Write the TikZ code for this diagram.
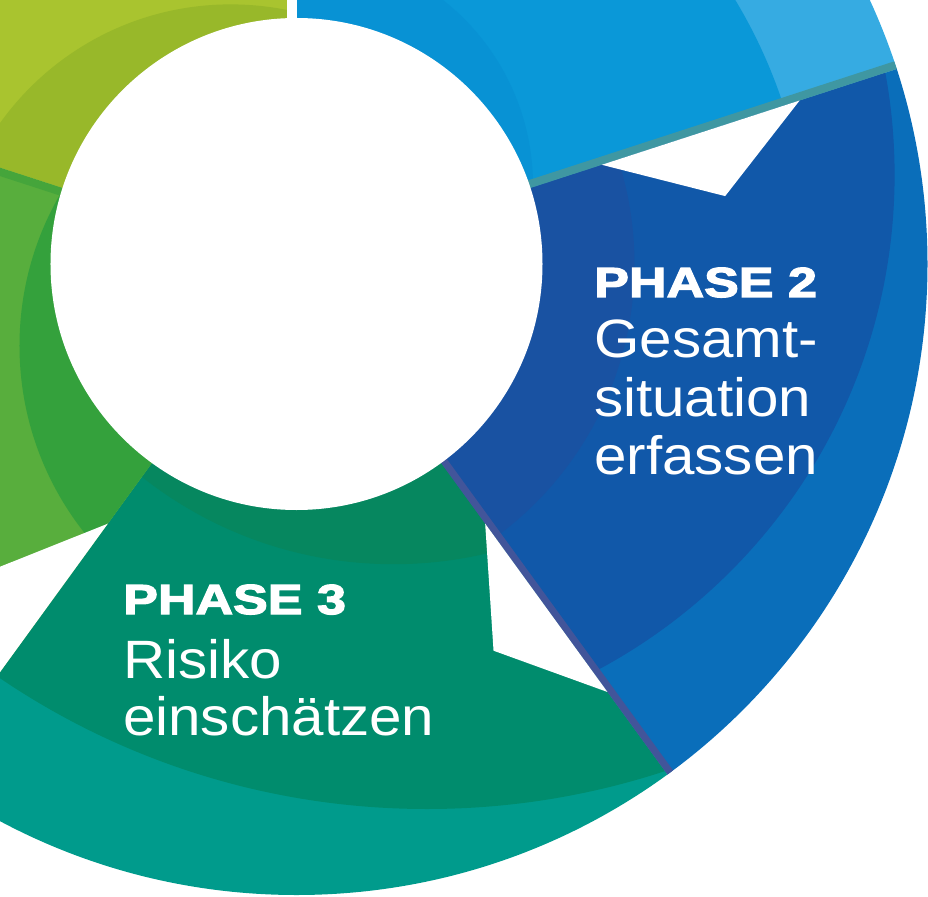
\documentclass[tikz,border=0pt]{standalone}
\usepackage{fontspec}
\setmainfont{Liberation Sans}[FakeStretch=1.08]
\newfontfamily\phasefont{Liberation Sans}[FakeStretch=1.24,FakeBold=3]
\usetikzlibrary{calc}

\definecolor{pOneMain}{HTML}{0A98D8}
\definecolor{pOneOuter}{HTML}{36ABE2}
\definecolor{pOneInner}{HTML}{0892D4}
\definecolor{pOneEdge}{HTML}{3F97A2}
\definecolor{pTwoMain}{HTML}{1158A9}
\definecolor{pTwoOuter}{HTML}{0A6EBA}
\definecolor{pTwoInner}{HTML}{1952A2}
\definecolor{pTwoEdge}{HTML}{42559A}
\definecolor{pThreeMain}{HTML}{008C6D}
\definecolor{pThreeOuter}{HTML}{009B8C}
\definecolor{pThreeInner}{HTML}{06875F}
\definecolor{pFourMain}{HTML}{58AE3D}
\definecolor{pFourInner}{HTML}{34A13C}
\definecolor{pFourEdge}{HTML}{45A53B}
\definecolor{pFiveMain}{HTML}{A9C42F}
\definecolor{pFiveInner}{HTML}{98B82A}

\begin{document}
\begin{tikzpicture}[x=1pt,y=1pt,
  titletext/.style={anchor=base west,inner sep=0pt,text=white,
    font=\phasefont\bfseries\fontsize{42}{42}\selectfont},
  bodytext/.style={anchor=base west,inner sep=0pt,text=white,
    font=\fontsize{54}{54}\selectfont}]
  \useasboundingbox (-296.5,-632) rectangle (631.5,264);
  \clip (-296.5,-632) rectangle (631.5,264);

  \begin{scope}
    \clip (0,0) circle[radius=631pt]; % 外周
    % フェーズ1（上）
    \begin{scope}
      \clip (0,0) -- (18:700pt) arc[start angle=18,end angle=90,radius=700pt] -- cycle;
      \fill[pOneOuter] (0,0) circle[radius=700pt];
      \fill[pOneMain] (0,0) circle[radius=512pt];
      \fill[pOneInner] (0.5,78.6) circle[radius=236pt];
    \end{scope}
    % フェーズ2
    \begin{scope}
      \clip (0,0) -- (-54:700pt) arc[start angle=-54,end angle=18,radius=700pt] -- cycle;
      \fill[pTwoOuter] (0,0) circle[radius=700pt];
      \fill[pTwoMain] (37.1,89.1) circle[radius=561pt];
      \fill[pTwoInner] (0,0) circle[radius=338pt];
    \end{scope}
    % フェーズ3
    \begin{scope}
      \clip (0,0) -- (-126:700pt) arc[start angle=-126,end angle=-54,radius=700pt] -- cycle;
      \fill[pThreeOuter] (0,0) circle[radius=700pt];
      \fill[pThreeMain] (130.5,217) circle[radius=762pt];
      \fill[pThreeInner] (97,105.8) circle[radius=406pt];
    \end{scope}
    % フェーズ4
    \begin{scope}
      \clip (0,0) -- (162:700pt) arc[start angle=162,end angle=234,radius=700pt] -- cycle;
      \fill[pFourMain] (0,0) circle[radius=700pt];
      \fill[pFourInner] (25,-81.7) circle[radius=302pt];
    \end{scope}
    % フェーズ5
    \begin{scope}
      \clip (0,0) -- (90:700pt) arc[start angle=90,end angle=162,radius=700pt] -- cycle;
      \fill[pFiveMain] (0,0) circle[radius=700pt];
      \fill[pFiveInner] (-65.8,-23.9) circle[radius=283.5pt];
    \end{scope}
    % 区切りの帯
    \fill[pOneEdge] (18:200pt) -- (18:700pt) -- ++(108:8pt) -- ($(18:200pt)+(108:8pt)$) -- cycle;
    \fill[pTwoEdge] (-54:200pt) -- (-54:700pt) -- ++(36:7pt) -- ($(-54:200pt)+(36:7pt)$) -- cycle;
    \fill[pFourEdge] (162:200pt) -- (162:700pt) -- ++(252:8pt) -- ($(162:200pt)+(252:8pt)$) -- cycle;
  \end{scope}

  % 切り欠き（白い三角）
  \fill[white] (18:321pt) -- (9:434pt) -- (18:529pt) -- cycle;
  \fill[white] (-54:321pt) -- (-63:434pt) -- (-54:529pt) -- cycle;
  \fill[white] (-126:321pt) -- (-135:434pt) -- (-126:529pt) -- cycle;
  \fill[white] (-9.5,0) rectangle (0.5,700); % 上の隙間
  \fill[white] (0,0) circle[radius=246pt]; % 中央の円

  \node[titletext] (p2head) at (297.5,-33) {PHASE 2};
  \node[bodytext] (p2a) at ($(p2head.base west)+(0,-61)$) {Gesamt-};
  \node[bodytext] (p2b) at ($(p2a.base west)+(0,-58)$) {situation};
  \node[bodytext] (p2c) at ($(p2b.base west)+(0,-58)$) {erfassen};

  \node[titletext] (p3head) at (-173.5,-350) {PHASE 3};
  \node[bodytext] (p3a) at ($(p3head.base west)+(0,-64)$) {Risiko};
  \node[bodytext] (p3b) at ($(p3a.base west)+(0,-57)$) {einschätzen};
\end{tikzpicture}
\end{document}
